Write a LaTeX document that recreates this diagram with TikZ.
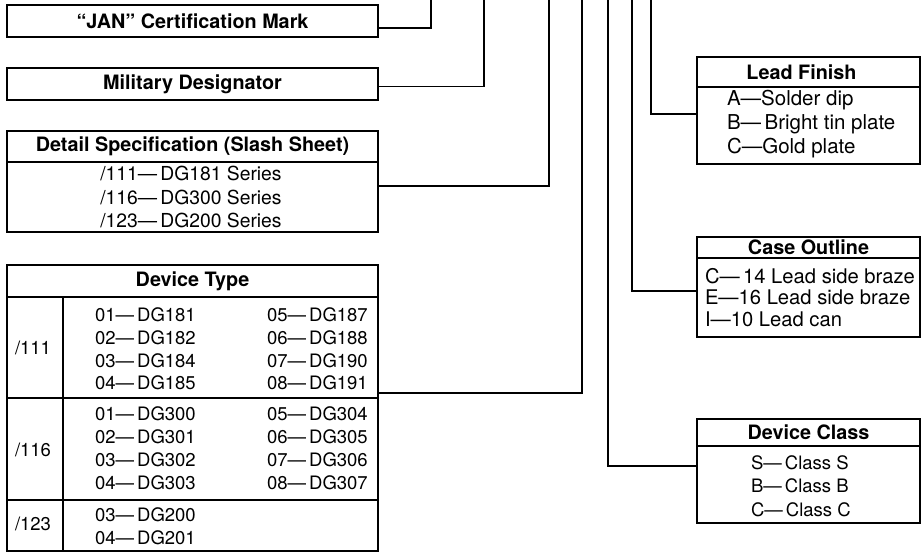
\documentclass[tikz,border=0pt]{standalone}
\usepackage{fontspec}
\setmainfont{TeX Gyre Heros}
\begin{document}
\begin{tikzpicture}[x=1pt,y=-1pt,line width=1.3pt,
  cell/.style={draw, rectangle, inner sep=0pt, outer sep=0pt, anchor=north west},
  hd/.style={font=\fontsize{19.8}{22}\selectfont\bfseries},
  bd/.style={font=\fontsize{18.5}{23}\selectfont},
  txt/.style={inner sep=0pt, outer sep=0pt, anchor=west, align=left, bd},
  conn/.style={line width=1.3pt}]
\useasboundingbox (0,0) rectangle (921,553);
% top free ends
\coordinate (jtop) at (431,0);
\coordinate (mtop) at (484,0);
\coordinate (dtop) at (549,0);
\coordinate (ttop) at (582,0);
\coordinate (ktop) at (608,0);
\coordinate (ctop) at (632,0);
\coordinate (ltop) at (651,0);
% left boxes
\node[cell, hd, minimum width=371, minimum height=32] (jan) at (7,5) {``JAN'' Certification Mark};
\node[cell, hd, minimum width=371, minimum height=32] (mil) at (7,68) {Military Designator};
\node[cell, hd, minimum width=371, minimum height=31] (deth) at (7,131) {Detail Specification (Slash Sheet)};
\node[cell, minimum width=371, minimum height=70] (detb) at (7,162) {};
\node[inner sep=0pt, align=left, font=\fontsize{19.3}{23.5}\selectfont] (dett) at (191,197) {/111—\,DG181 Series\\/116—\,DG300 Series\\/123—\,DG200 Series};
% device type table
\node[cell, hd, minimum width=371, minimum height=32] (dth) at (7,265) {Device Type};
\node[cell, minimum width=56, minimum height=101] (dt1l) at (7,297) {};
\node[cell, minimum width=315, minimum height=101] (dt1c) at (63,297) {};
\node[cell, minimum width=56, minimum height=102] (dt2l) at (7,398) {};
\node[cell, minimum width=315, minimum height=102] (dt2c) at (63,398) {};
\node[cell, minimum width=56, minimum height=51] (dt3l) at (7,500) {};
\node[cell, minimum width=315, minimum height=51] (dt3c) at (63,500) {};
\node[txt] (l111) at (15,348) {/111};
\node[txt] (l116) at (15,450) {/116};
\node[txt] (l123) at (15,524) {/123};
\node[txt, font=\fontsize{18.5}{22.7}\selectfont] (a111) at (95,349) {01—\,DG181\\02—\,DG182\\03—\,DG184\\04—\,DG185};
\node[txt, font=\fontsize{18.5}{22.7}\selectfont] (b111) at (267,349) {05—\,DG187\\06—\,DG188\\07—\,DG190\\08—\,DG191};
\node[txt, font=\fontsize{18.5}{23}\selectfont] (a116) at (95,448) {01—\,DG300\\02—\,DG301\\03—\,DG302\\04—\,DG303};
\node[txt, font=\fontsize{18.5}{23}\selectfont] (b116) at (267,448) {05—\,DG304\\06—\,DG305\\07—\,DG306\\08—\,DG307};
\node[txt, font=\fontsize{18.5}{23}\selectfont] (a123) at (95,526.5) {03—\,DG200\\04—\,DG201};
% right boxes
\node[cell, hd, minimum width=223, minimum height=30] (lfh) at (697,57) {\hspace*{-14pt}Lead Finish};
\node[cell, minimum width=223, minimum height=77] (lfb) at (697,87) {};
\node[txt, font=\fontsize{20.5}{24}\selectfont] (lft) at (727,124.5) {A—Solder dip\\B—\,Bright tin plate\\C—Gold plate};
\node[cell, hd, minimum width=223, minimum height=21] (coh) at (697,237) {Case Outline};
\node[cell, minimum width=223, minimum height=79] (cob) at (697,258) {};
\node[txt, font=\fontsize{20.2}{21.5}\selectfont] (cot) at (705,297.5) {C—\,14 Lead side braze\\E—16 Lead side braze\\I—10 Lead can};
\node[cell, hd, minimum width=223, minimum height=27] (dch) at (697,419) {Device Class};
\node[cell, minimum width=223, minimum height=77] (dcb) at (697,446) {};
\node[txt, font=\fontsize{18.5}{23.5}\selectfont] (dct) at (751,486) {S—\,Class S\\B—\,Class B\\C—\,Class C};
% connectors
\draw[conn] ([yshift=-7pt]jan.east) -| (jtop);
\draw[conn] ([yshift=-2.5pt]mil.east) -| (mtop);
\draw[conn] ([yshift=11pt]detb.east) -| (dtop);
\draw[conn] ([yshift=5pt]dt1c.south east) -| (ttop);
\draw[conn] ([yshift=11.5pt]lfb.west) -| (ltop);
\draw[conn] ([yshift=6.5pt]cob.west) -| (ctop);
\draw[conn] ([yshift=18.5pt]dcb.west) -| (ktop);
\end{tikzpicture}
\end{document}
